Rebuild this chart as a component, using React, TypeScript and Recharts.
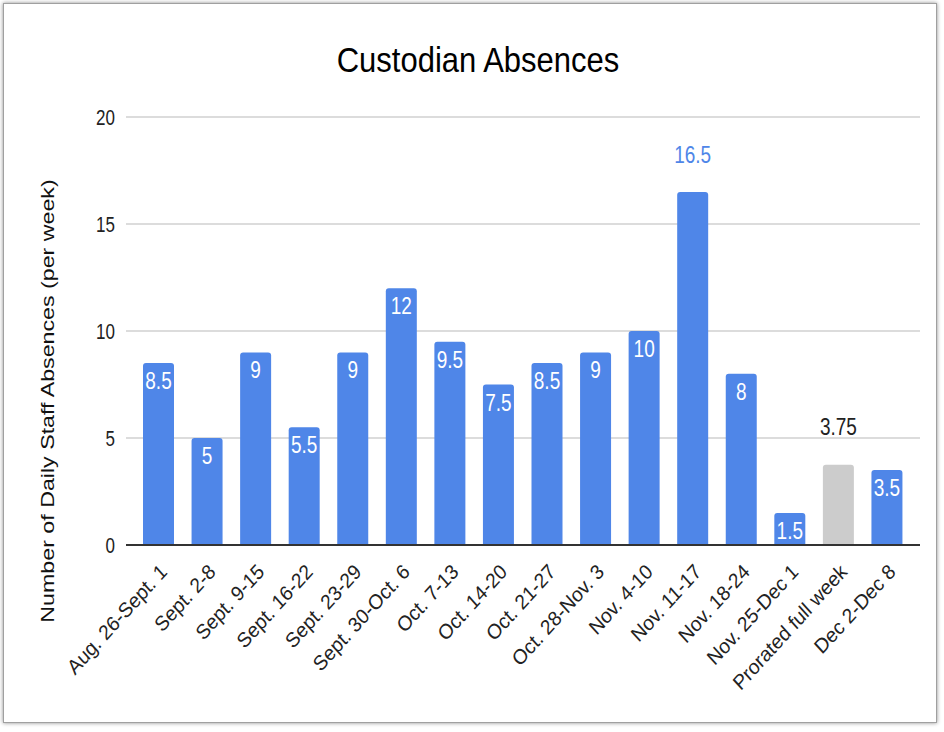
import React from "react";
import { Bar, BarChart, CartesianGrid, Cell, LabelList, XAxis, YAxis } from "recharts";

// weekly custodian absences
const weeks = [
    "Aug. 26-Sept. 1",
    "Sept. 2-8",
    "Sept. 9-15",
    "Sept. 16-22",
    "Sept. 23-29",
    "Sept. 30-Oct. 6",
    "Oct. 7-13",
    "Oct. 14-20",
    "Oct. 21-27",
    "Oct. 28-Nov. 3",
    "Nov. 4-10",
    "Nov. 11-17",
    "Nov. 18-24",
    "Nov. 25-Dec 1",
    "Prorated full week",
    "Dec 2-Dec 8",
];
const absences = [8.5, 5, 9, 5.5, 9, 12, 9.5, 7.5, 8.5, 9, 10, 16.5, 8, 1.5, 3.75, 3.5];
const proratedWeek = "Prorated full week";
const yTicks = [0, 5, 10, 15, 20];

const BLUE = "#4f86e8";
const GREY = "#cccccc";
const FONT = "'Liberation Sans', Arial, sans-serif";

const data = weeks.map((week, i) => ({ week, absences: absences[i] }));
const maxValue = Math.max(...absences);

// the source screenshot is a bit stretched vertically, so text gets a scaleY
const AngledTick = ({ x, y, payload }: any) => {
    const ax = x + 10;
    const ay = y + 26;
    return (
        <text
            x={0}
            y={0}
            transform={`translate(${ax}, ${ay}) scale(1, 1.1) rotate(-45)`}
            textAnchor="end"
            fill="#222"
            fontSize={19}
            fontFamily={FONT}
        >
            {payload.value}
        </text>
    );
};

const NumberTick = ({ x, y, payload }: any) => (
    <text
        x={0}
        y={0}
        transform={`translate(${x}, ${y}) scale(1, 1.35)`}
        textAnchor="end"
        dominantBaseline="central"
        fill="#222"
        fontSize={17}
        fontFamily={FONT}
    >
        {payload.value}
    </text>
);

const ValueText = ({ x, y, fill, children }: any) => (
    <text
        x={0}
        y={0}
        transform={`translate(${x}, ${y}) scale(1, 1.25)`}
        textAnchor="middle"
        fill={fill}
        fontSize={19}
        fontFamily={FONT}
    >
        {children}
    </text>
);

const renderValue = (props: any) => {
    const { x, y, width, value, index } = props;
    const cx = x + width / 2;
    // grey bar and the tallest bar get their label above the bar
    if (weeks[index] === proratedWeek) {
        return <ValueText x={cx} y={y - 30} fill="#222">{value}</ValueText>;
    }
    if (value === maxValue) {
        return <ValueText x={cx} y={y - 29} fill={BLUE}>{value}</ValueText>;
    }
    return <ValueText x={cx} y={y + 26} fill="#fff">{value}</ValueText>;
};

const YTitle = () => {
    const cx = 48;
    const cy = 401;
    return (
        <text
            x={0}
            y={0}
            transform={`translate(${cx}, ${cy}) scale(1, 1.29) rotate(-90)`}
            textAnchor="middle"
            dominantBaseline="central"
            fill="#111"
            fontSize={18}
            fontFamily={FONT}
        >
            Number of Daily Staff Absences (per week)
        </text>
    );
};

export default function App() {
    return (
        <div style={{ position: "absolute", left: 0, top: 0, width: 944, height: 732, background: "#fff" }}>
            <div
                style={{
                    position: "absolute",
                    left: 3,
                    top: 3,
                    width: 932,
                    height: 718,
                    border: "1px solid #a0a0a0",
                    boxShadow: "0 0 4px rgba(0,0,0,0.45)",
                    background: "#fff",
                }}
            />
            <div
                style={{
                    position: "absolute",
                    left: 6,
                    top: 43,
                    width: 944,
                    textAlign: "center",
                    fontFamily: FONT,
                    fontSize: 31,
                    lineHeight: "36px",
                    color: "#000",
                    transform: "scaleY(1.13)",
                }}
            >
                Custodian Absences
            </div>
            <div style={{ position: "absolute", left: 0, top: 0 }}>
                <BarChart
                    width={944}
                    height={732}
                    data={data}
                    margin={{ top: 117, right: 24, bottom: 0, left: 20 }}
                    barSize={31}
                >
                    <CartesianGrid vertical={false} stroke="#d0d0d0" strokeWidth={1.5} />
                    <XAxis
                        dataKey="week"
                        interval={0}
                        height={187}
                        tickSize={0}
                        tick={<AngledTick />}
                        axisLine={{ stroke: "#333", strokeWidth: 2 }}
                        padding={{ left: 8, right: 9 }}
                    />
                    <YAxis
                        domain={[0, 20]}
                        ticks={yTicks}
                        width={106}
                        tickSize={0}
                        tickMargin={11}
                        axisLine={false}
                        tick={<NumberTick />}
                        label={<YTitle />}
                    />
                    <Bar dataKey="absences" fill={BLUE} radius={[3, 3, 0, 0]} isAnimationActive={false}>
                        {data.map((d) => (
                            <Cell key={d.week} fill={d.week === proratedWeek ? GREY : BLUE} />
                        ))}
                        <LabelList dataKey="absences" content={renderValue} />
                    </Bar>
                </BarChart>
            </div>
        </div>
    );
}
